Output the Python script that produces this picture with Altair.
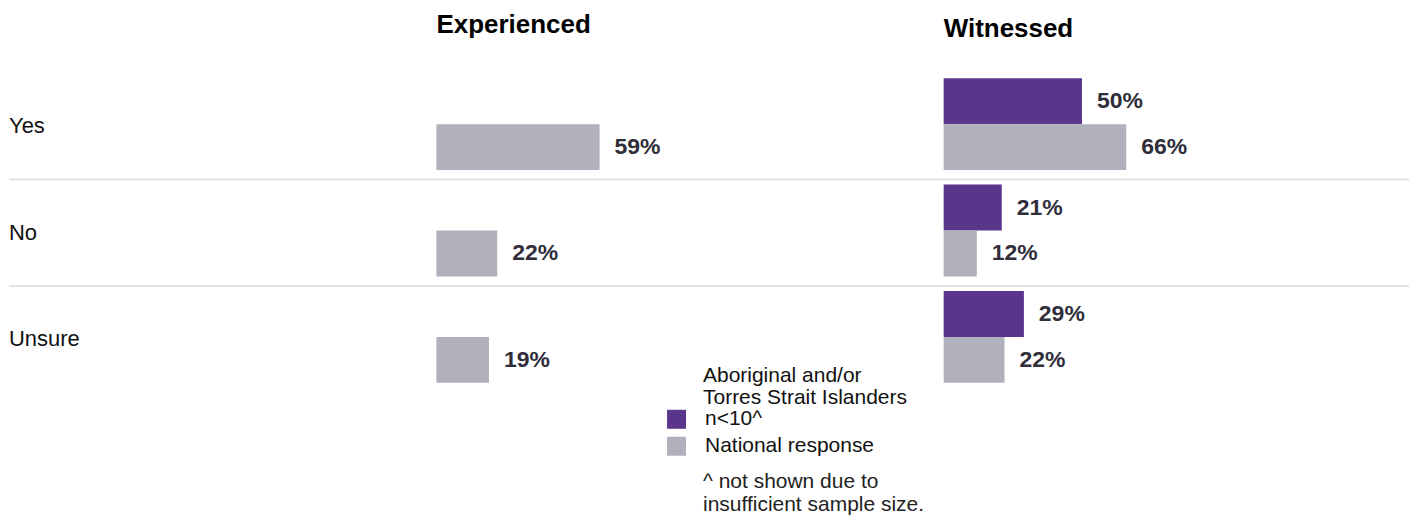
import altair as alt
import pandas as pd

# ---- data ----
responses = ["Yes", "No", "Unsure"]
panels = ["Experienced", "Witnessed"]
groups = ["Aboriginal and/or\nTorres Strait Islanders\nn<10^", "National response"]
experienced_national = [59, 22, 19]
witnessed_aboriginal = [50, 21, 29]
witnessed_national = [66, 12, 22]
footnote = "^ not shown due to\ninsufficient sample size."

rows = []
for r, v in zip(responses, experienced_national):
    rows.append({"panel": panels[0], "response": r, "group": groups[1], "value": v})
for r, a, n in zip(responses, witnessed_aboriginal, witnessed_national):
    rows.append({"panel": panels[1], "response": r, "group": groups[0], "value": a})
    rows.append({"panel": panels[1], "response": r, "group": groups[1], "value": n})
df = pd.DataFrame(rows)

FONT = "Liberation Sans"
PURPLE = "#5a358c"
GREY = "#b1b0bd"
LABEL_COLOR = "#2f2e3a"

# ---- scales ----
y_scale = alt.Scale(domain=responses, range=[65, 384.5], paddingInner=0, paddingOuter=0)
yoff_scale = alt.Scale(domain=groups, paddingInner=0, paddingOuter=0.158, align=0.345)
color_scale = alt.Scale(domain=groups, range=[PURPLE, GREY])
x_scales = {
    panels[0]: alt.Scale(domain=[0, 100], range=[428, 705]),
    panels[1]: alt.Scale(domain=[0, 100], range=[936, 1213]),
}
title_y = {panels[0]: 25, panels[1]: 29}

# legend: the leading lines of the first group's name become the legend title,
# each entry shows the last line of its group's name
legend = alt.Legend(
    title=groups[0].split("\n")[:-1], titleFont=FONT, titleFontSize=21,
    titleFontWeight="normal", titleColor="#111111", titleLineHeight=22,
    titleBaseline="top", titleAnchor="start", titlePadding=1, titleLimit=500,
    orient="none", legendX=695, legendY=357,
    symbolType="square", symbolSize=361, symbolStrokeWidth=0,
    symbolOffset={"expr": "-37"},
    labelFont=FONT, labelFontSize=21, labelColor="#111111",
    labelExpr="peek(split(datum.label, '\\n'))", labelBaseline="middle",
    labelOffset=18, labelLimit=500, rowPadding=5, padding=0,
)


def panel_layers(panel):
    xs = x_scales[panel]
    base = alt.Chart(df).transform_filter(alt.datum.panel == panel)
    bars = base.mark_bar().encode(
        x=alt.X("value:Q", scale=xs, axis=None),
        y=alt.Y("response:N", scale=y_scale, axis=None),
        yOffset=alt.YOffset("group:N", scale=yoff_scale),
        color=alt.Color("group:N", scale=color_scale, legend=legend),
    )
    labels = base.transform_calculate(
        label="format(datum.value, 'd') + '%'"
    ).mark_text(
        align="left", baseline="middle", dx=15, font=FONT, fontSize=23,
        fontWeight="bold", color=LABEL_COLOR,
    ).encode(
        x=alt.X("value:Q", scale=xs, axis=None),
        y=alt.Y("response:N", scale=y_scale, axis=None),
        yOffset=alt.YOffset("group:N", scale=yoff_scale),
        text="label:N",
    )
    title = alt.Chart(pd.DataFrame({"panel": [panel]})).mark_text(
        align="left", baseline="alphabetic", font=FONT, fontSize=26,
        fontWeight="bold", color="#000000",
    ).encode(
        x=alt.XDatum(0, scale=xs, axis=None),
        y=alt.value(title_y[panel]),
        text="panel:N",
    )
    return [bars, labels, title]


row_df = pd.DataFrame({"response": responses})
sep_df = pd.DataFrame({"response": responses[1:]})

row_labels = alt.Chart(row_df).mark_text(
    align="left", baseline="middle", font=FONT, fontSize=22, color="#111111"
).encode(
    x=alt.value(0),
    y=alt.Y("response:N", scale=y_scale, axis=None),
    text="response:N",
)

separators = alt.Chart(sep_df).mark_rule(color="#e3e3e3", strokeWidth=2).encode(
    y=alt.Y("response:N", scale=y_scale, axis=None, bandPosition=0),
    x=alt.value(0),
    x2=alt.value(1402),
)

note = alt.Chart(pd.DataFrame({"note": [footnote]})).mark_text(
    align="left", baseline="top", lineBreak="\n", font=FONT, fontSize=21,
    lineHeight=23, color="#222222",
).encode(
    x=alt.value(695),
    y=alt.value(463),
    text="note:N",
)

layers = [separators, row_labels] + panel_layers(panels[0]) + panel_layers(panels[1]) + [note]

chart = alt.layer(*layers).resolve_scale(x="independent").properties(
    width=1402, height=500, padding=0,
).configure(background="white").configure_view(strokeWidth=0)

chart.save("out.html", embed_options={"renderer": "svg", "actions": False})
